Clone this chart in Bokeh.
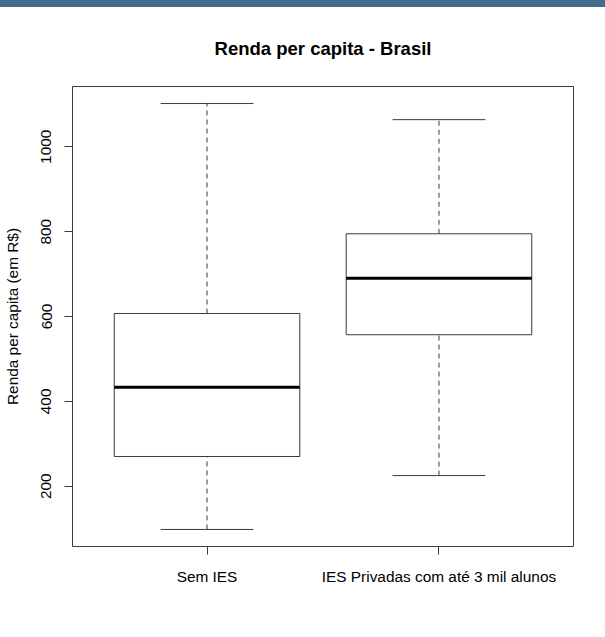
from bokeh.plotting import figure
from bokeh.models import Range1d, FixedTicker, ColumnDataSource, Div, GlobalInlineStyleSheet
from bokeh.layouts import column
from bokeh.embed import file_html
from bokeh.resources import INLINE

# ---- data ----
categories = ["Sem IES", "IES Privadas com até 3 mil alunos"]
whisker_low = [98, 225]
q1 = [270, 557]
median = [433, 690]
q3 = [607, 795]
whisker_high = [1102, 1064]
y_ticks = [200, 400, 600, 800, 1000]

title_text = "Renda per capita - Brasil"
ylabel_text = "Renda per capita (em R$)"

# ---- derived ----
pos = [i + 1 for i in range(len(categories))]
box_half = 0.4
cap_half = 0.2
lo, hi = min(whisker_low), max(whisker_high)
ypad = 0.04 * (hi - lo)
xlo, xhi = 0.5, len(categories) + 0.5
xpad = 0.04 * (xhi - xlo)

src = ColumnDataSource(dict(
    x=pos,
    left=[p_ - box_half for p_ in pos],
    right=[p_ + box_half for p_ in pos],
    cap_l=[p_ - cap_half for p_ in pos],
    cap_r=[p_ + cap_half for p_ in pos],
    wl=whisker_low, q1=q1, med=median, q3=q3, wh=whisker_high,
))

FONT = "Liberation Sans"
LINE = "#3a3a3a"

p = figure(width=605, height=630,
           x_range=Range1d(xlo - xpad, xhi + xpad),
           y_range=Range1d(lo - ypad, hi + ypad),
           output_backend="svg", toolbar_location=None,
           title=title_text,
           min_border_left=72, min_border_right=32,
           min_border_top=79, min_border_bottom=91,
           background_fill_color="white", border_fill_color="white")

p.xgrid.visible = False
p.ygrid.visible = False
p.outline_line_color = LINE
p.outline_line_width = 1
p.outline_line_alpha = 1

# whiskers (dashed)
p.segment(x0="x", x1="x", y0="q3", y1="wh", source=src, line_color=LINE,
          line_width=1, line_dash="5 4")
p.segment(x0="x", x1="x", y0="wl", y1="q1", source=src, line_color=LINE,
          line_width=1, line_dash="5 4")
# staples
p.segment(x0="cap_l", x1="cap_r", y0="wh", y1="wh", source=src, line_color=LINE, line_width=1)
p.segment(x0="cap_l", x1="cap_r", y0="wl", y1="wl", source=src, line_color=LINE, line_width=1)
# boxes
p.quad(left="left", right="right", bottom="q1", top="q3", source=src,
       fill_color="white", line_color=LINE, line_width=1)
# medians
p.segment(x0="left", x1="right", y0="med", y1="med", source=src,
          line_color="black", line_width=3)

# title
p.title.text_font = FONT
p.title.text_font_size = "18.5px"
p.title.text_font_style = "bold"
p.title.text_color = "black"
p.title.align = "center"
p.title.standoff = 56

# x axis
xa = p.xaxis[0]
xa.ticker = FixedTicker(ticks=pos)
xa.major_label_overrides = {p_: c for p_, c in zip(pos, categories)}
xa.bounds = (pos[0], pos[-1])
xa.minor_tick_line_color = None
xa.major_tick_in = 0
xa.major_tick_out = 8
xa.major_label_standoff = 13
xa.major_label_text_font = FONT
xa.major_label_text_font_size = "15.4px"
xa.major_label_text_color = "black"
xa.axis_line_color = LINE
xa.major_tick_line_color = LINE

# y axis
ya = p.yaxis[0]
ya.ticker = FixedTicker(ticks=y_ticks)
ya.bounds = (y_ticks[0], y_ticks[-1])
ya.minor_tick_line_color = None
ya.major_tick_in = 0
ya.major_tick_out = 8
ya.major_label_orientation = "vertical"
ya.major_label_standoff = 13
ya.major_label_text_font = FONT
ya.major_label_text_font_size = "15.4px"
ya.major_label_text_color = "black"
ya.axis_line_color = LINE
ya.major_tick_line_color = LINE
ya.axis_label = ylabel_text
ya.axis_label_text_font = FONT
ya.axis_label_text_font_size = "15.4px"
ya.axis_label_text_font_style = "normal"
ya.axis_label_text_color = "black"
ya.axis_label_standoff = 18

bar = Div(text="", width=605, height=7, margin=0,
          styles={"background-color": "#426e8e"})

layout = column(bar, p, spacing=0)
layout.stylesheets = [GlobalInlineStyleSheet(css="body { margin: 0 !important; }")]

open("out.html", "w").write(file_html(layout, INLINE))
